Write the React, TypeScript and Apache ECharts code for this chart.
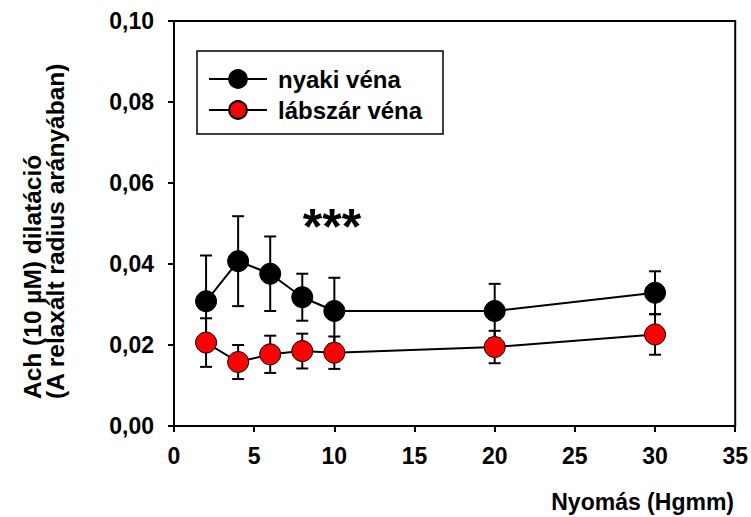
import React, { useEffect, useRef } from "react";
import * as echarts from "echarts";

const pressure = [2, 4, 6, 8, 10, 20, 30];
const nyaki = [0.0308, 0.0407, 0.0376, 0.0318, 0.0284, 0.0284, 0.0329];
const nyakiErr = [0.0113, 0.0111, 0.0092, 0.0058, 0.0082, 0.0067, 0.0053];
const labszar = [0.0206, 0.0158, 0.0177, 0.0185, 0.0181, 0.0195, 0.0226];
const labszarErr = [0.006, 0.0042, 0.0046, 0.0043, 0.004, 0.004, 0.005];
const seriesNames = ["nyaki véna", "lábszár véna"];
const yTitle1 = "Ach (10 µM) dilatáció";
const yTitle2 = "(A relaxált radius arányában)";
const xTitle = "Nyomás (Hgmm)";
const annotation = "***";

const FONT = "'Liberation Sans', Arial, sans-serif";

function errSeries(vals: number[], errs: number[], z: number) {
  return {
    type: "custom",
    z,
    silent: true,
    data: pressure.map((x, i) => [x, vals[i] - errs[i], vals[i] + errs[i]]),
    renderItem: (_p: any, api: any) => {
      const lo = api.coord([api.value(0), api.value(1)]);
      const hi = api.coord([api.value(0), api.value(2)]);
      const w = 6;
      const st = { stroke: "#000", lineWidth: 2 };
      return {
        type: "group",
        children: [
          { type: "line", shape: { x1: lo[0], y1: lo[1], x2: hi[0], y2: hi[1] }, style: st },
          { type: "line", shape: { x1: lo[0] - w, y1: lo[1], x2: lo[0] + w, y2: lo[1] }, style: st },
          { type: "line", shape: { x1: hi[0] - w, y1: hi[1], x2: hi[0] + w, y2: hi[1] }, style: st },
        ],
      };
    },
  };
}

export default function App() {
  const ref = useRef<HTMLDivElement>(null);
  useEffect(() => {
    if (!ref.current) return;
    const chart = echarts.init(ref.current, null, { renderer: "svg" });
    chart.setOption({
      animation: false,
      backgroundColor: "#fff",
      grid: {
        left: 174,
        right: 15,
        top: 21,
        bottom: 91,
        show: true,
        borderColor: "#000",
        borderWidth: 2,
        backgroundColor: "transparent",
      },
      legend: {
        left: 208,
        top: 67,
        orient: "vertical",
        itemWidth: 58,
        itemHeight: 22,
        itemGap: 7,
        padding: 0,
        data: seriesNames,
        textStyle: { fontFamily: FONT, fontWeight: "bold", fontSize: 24, color: "#000", padding: [0, 0, 0, 6] },
      },
      xAxis: {
        type: "value",
        min: 0,
        max: 35,
        interval: 5,
        axisLine: { lineStyle: { color: "#000", width: 2 } },
        axisTick: { inside: false, length: 6, lineStyle: { color: "#000", width: 2 } },
        splitLine: { show: false },
        axisLabel: { margin: 18, fontFamily: FONT, fontWeight: "bold", fontSize: 23, color: "#000" },
      },
      yAxis: {
        type: "value",
        min: 0,
        max: 0.1,
        interval: 0.02,
        axisLine: { lineStyle: { color: "#000", width: 2 } },
        axisTick: { inside: false, length: 6, lineStyle: { color: "#000", width: 2 } },
        splitLine: { show: false },
        axisLabel: {
          margin: 20,
          fontFamily: FONT,
          fontWeight: "bold",
          fontSize: 23,
          color: "#000",
          formatter: (v: number) => v.toFixed(2).replace(".", ","),
        },
      },
      graphic: [
        {
          type: "rect",
          shape: { x: 197, y: 51, width: 246, height: 83 },
          style: { fill: "none", stroke: "#000", lineWidth: 1.5 },
          z: 1,
        },
        {
          type: "text",
          x: 32,
          y: 399,
          rotation: Math.PI / 2,
          style: { text: yTitle1, fontFamily: FONT, fontWeight: "bold", fontSize: 24.5, fill: "#000", textAlign: "left", textVerticalAlign: "middle" },
        },
        {
          type: "text",
          x: 55,
          y: 399,
          rotation: Math.PI / 2,
          style: { text: yTitle2, fontFamily: FONT, fontWeight: "bold", fontSize: 24.5, fill: "#000", textAlign: "left", textVerticalAlign: "middle" },
        },
        {
          type: "text",
          x: 734,
          y: 502,
          style: { text: xTitle, fontFamily: FONT, fontWeight: "bold", fontSize: 23, fill: "#000", textAlign: "right", textVerticalAlign: "middle" },
        },
        {
          type: "text",
          x: 332,
          y: 227,
          style: { text: annotation, fontFamily: FONT, fontWeight: "bold", fontSize: 50, fill: "#000", textAlign: "center", textVerticalAlign: "middle" },
        },
      ],
      series: [
        errSeries(nyaki, nyakiErr, 1),
        errSeries(labszar, labszarErr, 1),
        {
          name: seriesNames[0],
          type: "line",
          z: 3,
          data: pressure.map((x, i) => [x, nyaki[i]]),
          symbol: "circle",
          symbolSize: 21,
          lineStyle: { color: "#000", width: 2 },
          itemStyle: { color: "#000", borderColor: "#000", borderWidth: 1 },
        },
        {
          name: seriesNames[1],
          type: "line",
          z: 4,
          data: pressure.map((x, i) => [x, labszar[i]]),
          symbol: "circle",
          symbolSize: 21,
          lineStyle: { color: "#000", width: 2 },
          itemStyle: { color: "#ff0000", borderColor: "#000", borderWidth: 1 },
        },
      ],
    });
    return () => chart.dispose();
  }, []);
  return <div ref={ref} style={{ position: "fixed", left: 0, top: 0, width: 751, height: 517 }} />;
}
